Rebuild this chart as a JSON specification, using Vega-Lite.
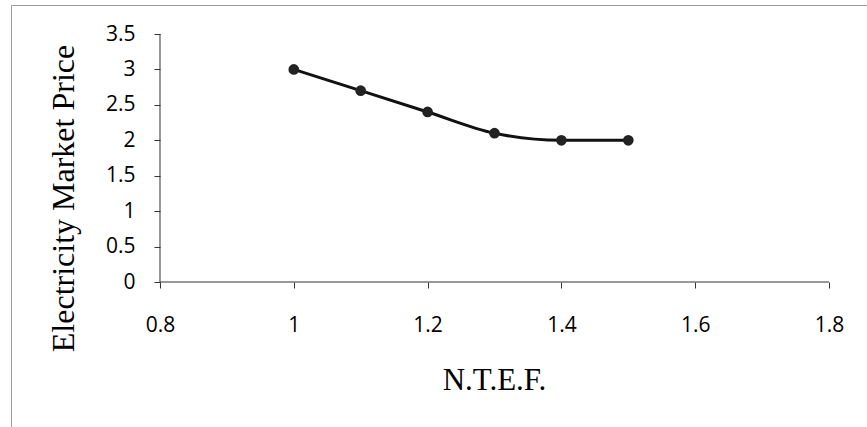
{
  "$schema": "https://vega.github.io/schema/vega-lite/v6.json",
  "width": 860,
  "height": 426,
  "autosize": {"type": "none"},
  "padding": {"left": 11, "top": 5, "right": 0, "bottom": 0},
  "background": "white",
  "config": {
    "view": {"stroke": "#9a9a9a", "strokeWidth": 1},
    "axis": {
      "grid": false,
      "domain": false,
      "ticks": true,
      "tickSize": 6,
      "tickColor": "#333333",
      "tickWidth": 1,
      "labelExpr": "'' + datum.value",
      "labelFont": "Open Sans",
      "labelFontSize": 21,
      "labelColor": "#000000",
      "titleFont": "Liberation Serif",
      "titleFontWeight": "normal",
      "titleColor": "#000000"
    }
  },
  "datasets": {
    "prices": [
      {"ntef": 1.0, "price": 3.0},
      {"ntef": 1.1, "price": 2.7},
      {"ntef": 1.2, "price": 2.4},
      {"ntef": 1.3, "price": 2.1},
      {"ntef": 1.4, "price": 2.0},
      {"ntef": 1.5, "price": 2.0}
    ],
    "axisLines": [
      {"ntef": 0.8, "ntef_end": 1.8, "price": 0, "price_end": 0},
      {"ntef": 0.8, "ntef_end": 0.8, "price": 0, "price_end": 3.5}
    ]
  },
  "encoding": {
    "x": {
      "field": "ntef",
      "type": "quantitative",
      "scale": {"domain": [0.57728, 1.86278], "nice": false, "zero": false},
      "axis": {
        "orient": "bottom",
        "offset": -149,
        "values": [0.8, 1, 1.2, 1.4, 1.6, 1.8],
        "labelPadding": 26,
        "title": "N.T.E.F.",
        "titleFontSize": 31,
        "titleX": 483,
        "titleY": 107,
        "titleAlign": "center",
        "titleBaseline": "alphabetic"
      }
    },
    "y": {
      "field": "price",
      "type": "quantitative",
      "scale": {"domain": [-2.1027, 3.9093], "nice": false, "zero": false},
      "axis": {
        "orient": "left",
        "offset": -149,
        "values": [0, 0.5, 1, 1.5, 2, 2.5, 3, 3.5],
        "labelPadding": 19,
        "title": "Electricity Market Price",
        "titleFontSize": 32,
        "titleAngle": 270,
        "titleX": -87,
        "titleY": 193,
        "titleAlign": "center",
        "titleBaseline": "alphabetic"
      }
    }
  },
  "layer": [
    {
      "data": {"name": "axisLines"},
      "mark": {"type": "rule", "color": "#333333", "strokeWidth": 1},
      "encoding": {
        "x2": {"field": "ntef_end"},
        "y2": {"field": "price_end"}
      }
    },
    {
      "data": {"name": "prices"},
      "mark": {"type": "line", "interpolate": "monotone", "color": "#111111", "strokeWidth": 3}
    },
    {
      "data": {"name": "prices"},
      "mark": {"type": "circle", "size": 115, "color": "#222222", "opacity": 1}
    }
  ]
}
